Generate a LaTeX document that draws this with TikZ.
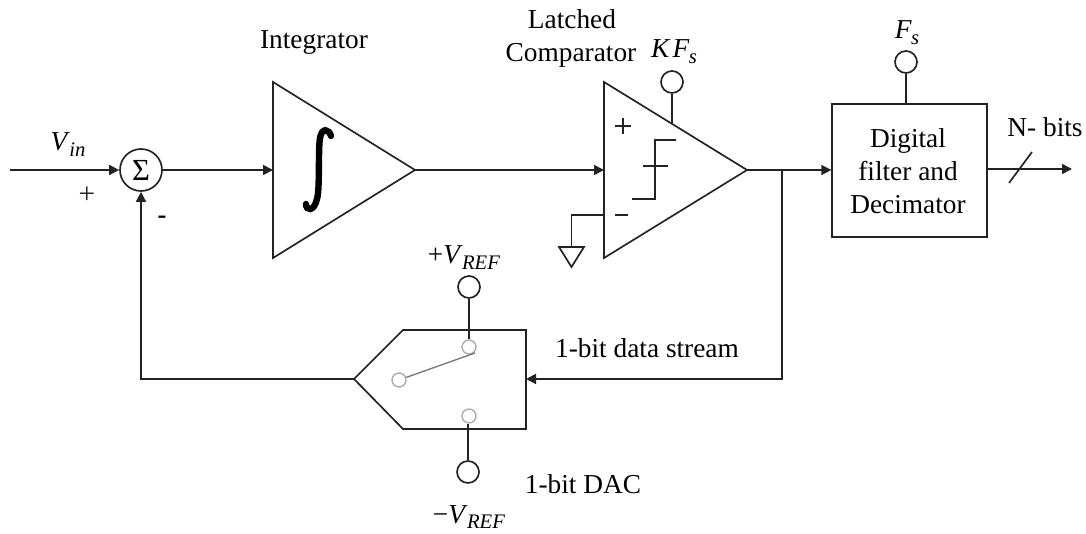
\documentclass[tikz,border=0pt]{standalone}
\usepackage{fontspec}
\setmainfont{Liberation Serif}
\usetikzlibrary{arrows.meta}
\definecolor{ink}{HTML}{222222}
\definecolor{swgray}{HTML}{A8A8A8}
\newcommand{\lsub}[2]{\textit{#1}\kern-0.02em\raisebox{-0.2em}{\fontsize{15.5pt}{17pt}\selectfont\textit{#2}}}
\tikzset{
  wire/.style={draw=ink,line width=1.25pt},
  sig/.style={wire,-{Triangle[length=7.5pt,width=7.5pt]}},
  shapeline/.style={draw=ink,line width=1.25pt,line join=miter},
  lbl/.style={inner sep=0pt,anchor=base,text=black,font=\fontsize{20.5pt}{24pt}\selectfont,align=center},
  terminal/.style={circle,draw=ink,line width=1.25pt,minimum size=16.5pt,inner sep=0pt,fill=white},
  contact/.style={circle,draw=swgray,line width=1pt,minimum size=10.5pt,inner sep=0pt,fill=white},
  pt/.style={inner sep=0pt,minimum size=0pt}
}
\begin{document}
\begin{tikzpicture}[x=0.75pt,y=-0.75pt]
\useasboundingbox (0,0) rectangle (1086,534);
% points
\coordinate (in) at (10,170);
\coordinate (itop) at (273,82);
\coordinate (iout) at (415,170);
\coordinate (ibot) at (273,258);
\coordinate (iin) at (273,170);
\coordinate (ctop) at (604,82);
\coordinate (cout) at (747,170);
\coordinate (cbot) at (604,258);
\coordinate (cin) at (604,170);
\coordinate (cneg) at (604,215);
\coordinate (gbend) at (571.5,215);
\coordinate (gtop) at (571.5,247);
\coordinate (gl) at (559,247);
\coordinate (gr) at (584,247);
\coordinate (gb) at (571.5,267);
\coordinate (clkc) at (672,123);
\coordinate (tap) at (782,170);
\coordinate (tapb) at (782,379);
\coordinate (dapex) at (354,379);
\coordinate (dtl) at (403,330);
\coordinate (dtr) at (526,330);
\coordinate (dbr) at (526,429);
\coordinate (dbl) at (403,429);
\coordinate (dr) at (526,379);
\coordinate (fb) at (141,379);
\coordinate (sla) at (1009,183);
\coordinate (slb) at (1032,152);
\coordinate (outend) at (1072,169);
% blocks
\node[terminal,minimum size=31.5pt,font=\fontsize{23pt}{24pt}\selectfont] (sum) at (141,170) {Σ};
\node[draw=ink,line width=1.25pt,minimum width=116pt,minimum height=100pt,inner sep=0pt] (filt) at (909.5,170.5) {};
\draw[shapeline] (itop) -- (iout) -- (ibot) -- cycle;
\draw[shapeline] (ctop) -- (cout) -- (cbot) -- cycle;
\draw[shapeline] (dapex) -- (dtl) -- (dtr) -- (dbr) -- (dbl) -- cycle;
\draw[shapeline] (gl) -- (gr) -- (gb) -- cycle;
% integral sign
\draw[black,line width=4.8pt,line cap=round] (331,136) .. controls (329,129) and (322,127) .. (320,138) .. controls (318,150) and (320,190) .. (317,199) .. controls (314,212) and (306,211) .. (306,204);
% comparator symbol
\draw[ink,line width=1.25pt] (632,199) -- (655,199) -- (655,140) -- (676,140);
\draw[ink,line width=1.25pt] (643,166) -- (668,166);
\draw[ink,line width=1.1pt] (615,126) -- (631,126) (623,118) -- (623,134);
\draw[ink,line width=1.1pt] (615,215) -- (628,215);
% terminals
\node[terminal] (kfs) at (672,82) {};
\node[terminal] (fs) at (906,62) {};
\node[terminal] (vp) at (469,287) {};
\node[terminal] (vm) at (468,472) {};
\node[contact] (swa) at (469,347) {};
\node[contact] (swb) at (469,416) {};
\node[contact] (swc) at (399,380) {};
% connectors
\draw[sig] (in) -- (sum.west);
\draw[sig] (sum.east) -- (iin);
\draw[sig] (iout) -- (cin);
\draw[sig] (cout) -- (filt.west |- cout);
\draw[sig] (tap) -- (tapb) -- (dr);
\draw[sig] (dapex) -- (fb) -- (sum.south);
\draw[sig] (filt.east |- outend) -- (outend);
\draw[wire] (sla) -- (slb);
\draw[wire] (kfs) -- (clkc);
\draw[wire] (fs.south) -- (fs.south |- filt.north);
\draw[wire] (vp.south) -- (swa.north);
\draw[wire] (vm.north) -- (vm.north |- swb.south);
\draw[wire] (cneg) -- (gbend) -- (gtop);
\draw[draw=swgray!70!black,line width=1pt] (swc) -- (475,353);
% labels
\node[lbl] (lvin) at (68,151) {\lsub{V}{in}};
\node[lbl,font=\fontsize{22pt}{24pt}\selectfont,text=ink] (lplus) at (87,204) {+};
\node[lbl,font=\fontsize{20pt}{24pt}\selectfont\bfseries] (lminus) at (162,224) {-};
\node[lbl] (lint) at (314,49) {Integrator};
\node[lbl] (lla) at (572,29) {Latched};
\node[lbl] (lcomp) at (571,62) {Comparator};
\node[lbl] (lkfs) at (674,58) {\textit{K}\kern0.08em\lsub{F}{s}};
\node[lbl] (lfs) at (907,39) {\lsub{F}{s}};
\node[lbl] (ld1) at (908,148) {Digital};
\node[lbl] (ld2) at (908,181) {filter and};
\node[lbl] (ld3) at (908,214) {Decimator};
\node[lbl] (lbits) at (1045,137) {N- bits};
\node[lbl] (lvp) at (464,264) {+\lsub{V}{REF}};
\node[lbl] (lvm) at (469,523) {−\lsub{V}{REF}};
\node[lbl] (ldac) at (583,494) {1-bit DAC};
\node[lbl] (lstream) at (647,358) {1-bit data stream};
\end{tikzpicture}
\end{document}
